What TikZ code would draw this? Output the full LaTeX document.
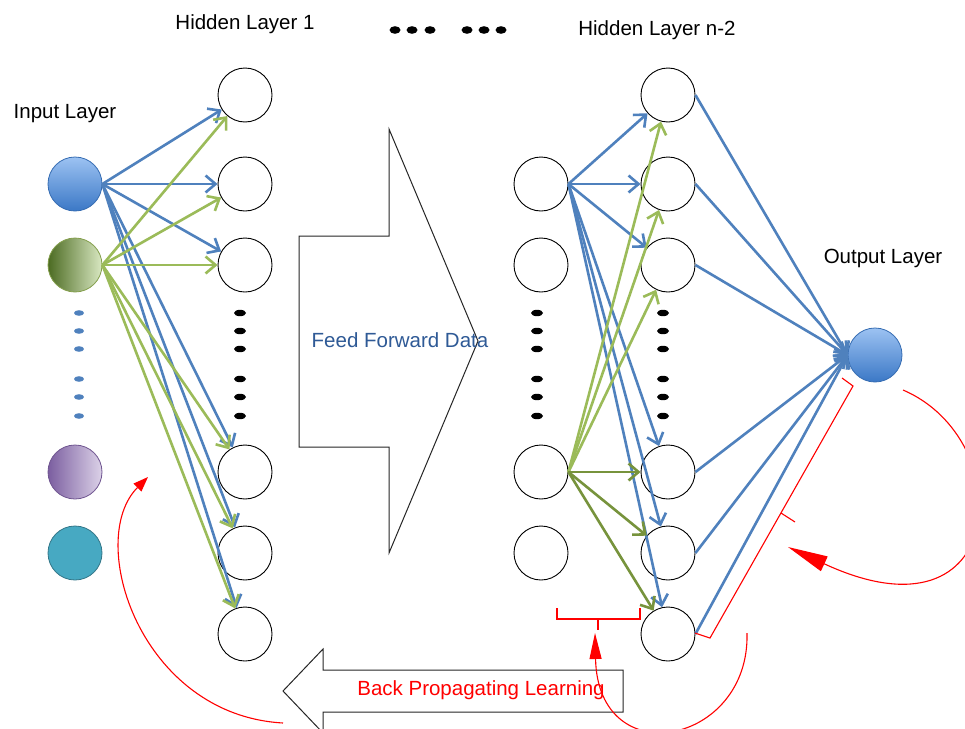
\documentclass[tikz,border=0pt]{standalone}
\usepackage{fontspec}
\setmainfont{Liberation Sans}
\usetikzlibrary{arrows.meta}
\definecolor{lblue}{HTML}{4F81BD}
\definecolor{lgreen}{HTML}{9BBB59}
\definecolor{dgreen}{HTML}{77933C}
\definecolor{ffblue}{HTML}{2F5A96}
\definecolor{btop}{HTML}{9CC2F2}
\definecolor{bbot}{HTML}{3B78C6}
\definecolor{gleft}{HTML}{4C6B22}
\definecolor{gright}{HTML}{D9E8C2}
\definecolor{pleft}{HTML}{7B5EA0}
\definecolor{pright}{HTML}{DCD2E8}
\definecolor{teal1}{HTML}{47A9C2}
\tikzset{
  neuron/.style={circle, draw=black, line width=0.9pt, minimum size=54pt, inner sep=0pt, fill=white},
  inp/.style={circle, minimum size=54pt, inner sep=0pt, line width=0.8pt},
  conn/.style={line width=2.6pt, -{Straight Barb[length=10pt,width=17pt,line width=2.6pt]}},
  bconn/.style={conn, draw=lblue},
  gconn/.style={conn, draw=lgreen},
  dconn/.style={conn, draw=dgreen},
  lbl/.style={font=\fontsize{20.5}{24}\selectfont, inner sep=0pt},
  redline/.style={draw=red, line width=1.1pt},
  bigarrow/.style={draw=black!85, line width=1pt, fill=white, line join=miter}
}
\begin{document}
\begin{tikzpicture}[x=1pt,y=-1pt]
\useasboundingbox (0,0) rectangle (965,728);
\clip (0,0) rectangle (965,728);
\fill[white] (0,0) rectangle (965,728);

% labels
\node[lbl] (tin) at (65,114) {Input Layer};
\node[lbl] (th1) at (245,24) {Hidden Layer 1};
\node[lbl] (thn) at (657,30) {Hidden Layer n-2};
\node[lbl] (tout) at (883,258) {Output Layer};
\foreach \x in {395,412,430,467,484,501} \fill[black] (\x,30) ellipse (5.5 and 3.8);

% big arrows
\draw[bigarrow] (299,236) -- (389,236) -- (389,129) -- (478,341) -- (389,553) -- (389,447) -- (299,447) -- cycle;
\node[lbl, text=ffblue] (tff) at (400,340) {Feed Forward Data};
\draw[bigarrow] (283,691) -- (323,649) -- (323,670) -- (623,670) -- (623,712) -- (323,712) -- (323,733) -- cycle;
\node[lbl, text=red] (tbp) at (481,690) {Back Propagating Learning};

% input layer
\node[inp, draw=bbot!90!black, top color=btop, bottom color=bbot] (i1) at (75,184) {};
\node[inp, draw=lgreen!85!black, left color=gleft, right color=gright] (i2) at (75,265) {};
\node[inp, draw=pleft!90!black, left color=pleft, right color=pright] (i3) at (75,472) {};
\node[inp, draw=teal1!70!black, fill=teal1] (i4) at (75,553) {};
\foreach \y in {313,331,349,379,397,416} \fill[lblue] (79,\y) ellipse (5 and 2.8);

% hidden layer 1
\foreach \y [count=\k] in {95,184,265,472,553,634} \node[neuron] (h\k) at (245,\y) {};
\foreach \y in {313,331,349,379,397,416} \fill[black] (240,\y) ellipse (6 and 3.2);

% layer before n-2
\foreach \y [count=\k] in {184,265,472,553} \node[neuron] (a\k) at (541,\y) {};
\foreach \y in {313,331,349,379,397,416} \fill[black] (537,\y) ellipse (6 and 3.2);

% hidden layer n-2
\foreach \y [count=\k] in {95,184,265,472,553,634} \node[neuron] (b\k) at (668,\y) {};
\foreach \y in {313,331,349,379,397,416} \fill[black] (663,\y) ellipse (6 and 3.2);

% output
\node[inp, draw=bbot!90!black, top color=btop, bottom color=bbot] (out) at (875,355) {};

% connectors left
\foreach \k in {1,...,6} \draw[bconn] (i1.east) -- (h\k);
\foreach \k in {1,...,6} \draw[gconn] (i2.east) -- (h\k);

% connectors right
\foreach \k in {1,...,6} \draw[bconn] (a1.east) -- (b\k);
\foreach \k in {1,2,3} \draw[gconn] (a3.east) -- (b\k);
\foreach \k in {4,5,6} \draw[dconn] (a3.east) -- (b\k);
\foreach \k in {1,...,6} \draw[bconn] (b\k.east) -- (out.west);

% red brackets
\draw[redline] (557,608) -- (557,619) -- (640,619) -- (640,608);
\draw[redline] (598,619) -- (598,630);
\draw[redline] (842,378) -- (853,386) -- (710,638) -- (695,633);
\draw[redline] (781,513) -- (795,522);

% red curved arrows
\draw[redline, -{Triangle[length=15pt,width=11pt]}] (283,723) .. controls (140,715) and (85,540) .. (148,477);
\draw[redline, -{Triangle[length=26pt,width=12pt]}] (747,633) .. controls (750,745) and (598,775) .. (595,633);
\draw[redline, -{Triangle[length=40pt,width=16pt]}] (903,390) .. controls (1020,440) and (1010,650) .. (788,547);
\end{tikzpicture}
\end{document}
